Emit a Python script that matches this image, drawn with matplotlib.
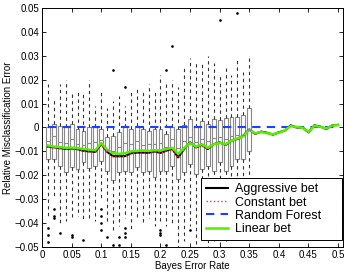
import numpy as np
import matplotlib
matplotlib.use('Agg')
import matplotlib.pyplot as plt

plt.rcParams['font.family'] = ['Liberation Sans', 'DejaVu Sans']

# box positions (Bayes error rate) and box statistics
box_x = [0.01 * i for i in range(1, 36)]
q3 = [0.0, 1.5, 0.8, 0.1, 1.5, -0.5, -1.3, 0.1, 0.1, -0.5,
      -4.0, -3.4, -2.0, 0.1, -0.5, 0.8, -0.5, -1.3, -0.5, -0.5,
      -2.7, 0.1, -0.5, 1.1, 3.5, 0.4, 2.7, 1.5, 3.5, 3.2,
      3.9, 4.4, 4.5, 5.2, 8.0]
q1 = [-13.2, -13.0, -16.0, -18.8, -16.7, -17.4, -14.6, -17.1, -16.0, -13.9,
      -18.1, -21.8, -18.8, -18.1, -18.8, -16.7, -18.8, -18.1, -20.9, -18.1,
      -18.1, -16.0, -21.6, -18.8, -15.3, -19.5, -17.4, -16.0, -18.1, -14.6,
      -18.1, -16.0, -13.2, -13.2, -9.7]
med = [-5.5, -3.4, -6.0, -6.5, -5.0, -6.8, -7.5, -6.5, -6.0, -5.2,
       -9.5, -10.0, -8.0, -6.5, -7.0, -5.5, -7.5, -7.0, -7.0, -6.5,
       -8.0, -5.0, -8.5, -5.5, -4.0, -6.0, -4.8, -5.5, -4.5, -4.0,
       -5.0, -3.5, -3.0, -3.0, -1.0]
whi = [18, 12, 18, 20, 15, 15, 14, 20, 9, 15,
       8, 11, 13, 9, 15, 16, 16, 18, 16, 22,
       18, 20, 17, 25, 29, 27, 27, 30, 27, 22,
       26, 22, 29, 23, 30]
wlo = [-37, -30, -40, -39, -38, -37, -39, -38, -39, -30,
       -39, -43, -41, -38, -43, -38, -40, -38, -41, -40,
       -41, -40, -50, -47.5, -41, -50, -47.5, -50, -47.5, -49,
       -47.5, -46, -43, -44.5, -38]
fliers = {1: [-42, -45, -48], 2: [-34, -37, -38], 3: [-44], 5: [-45, -46],
          7: [-47], 10: [-34, -37, -40, -43], 11: [-46], 12: [24, -49],
          13: [-46, -49], 14: [17, -42, -44, -46], 20: [-43, -44, -45],
          21: [24, -49], 22: [34], 25: [-43], 30: [45], 33: [48]}

# curves over the full range
rate = [0.01 * i for i in range(1, 51)]
aggressive = [-8.0, -8.3, -8.6, -9.0, -8.8, -9.0, -9.7, -10.0, -10.2, -6.9,
              -10.2, -12.0, -12.0, -12.0, -10.8, -10.5, -10.5, -10.6, -10.0, -10.6,
              -9.7, -9.0, -12.5, -9.0, -6.2, -8.3, -7.3, -9.0, -7.0, -6.2,
              -7.3, -5.5, -4.8, -3.4, -0.8, -2.7, -1.7, -2.2, -3.0, -2.0,
              -1.3, 0.9, 0.0, 0.0, -2.0, 0.9, 0.4, -0.6, 0.9, 1.1]
constant = [-8.2, -8.6, -8.9, -9.2, -9.0, -9.3, -10.0, -10.2, -10.4, -7.1,
            -10.4, -12.3, -12.3, -12.2, -11.0, -10.7, -10.7, -10.8, -10.2, -10.8,
            -9.9, -9.2, -12.7, -9.2, -6.4, -8.5, -7.5, -9.2, -7.2, -6.4,
            -7.5, -5.7, -5.0, -3.6, -1.0, -2.9, -1.9, -2.4, -3.2, -2.2,
            -1.5, 0.7, -0.2, -0.2, -2.2, 0.7, 0.2, -0.8, 0.7, 0.9]
linear = [-7.5, -8.0, -8.2, -8.5, -8.4, -8.6, -9.0, -9.3, -9.5, -6.5,
          -9.3, -10.8, -11.0, -10.8, -10.0, -9.8, -9.6, -9.8, -9.5, -9.6,
          -9.0, -8.5, -11.0, -8.6, -6.5, -8.0, -7.0, -8.5, -7.0, -6.4,
          -7.0, -5.5, -4.6, -3.6, -1.0, -2.4, -1.9, -2.4, -2.8, -2.2,
          -1.2, 0.6, 0.2, -0.1, -1.8, 0.7, 0.3, -0.4, 0.8, 1.0]
forest = [0.0] * 50

xticks = [0, 0.05, 0.1, 0.15, 0.2, 0.25, 0.3, 0.35, 0.4, 0.45, 0.5]
xticklabels = ['0', '0.05', '0.1', '0.15', '0.2', '0.25', '0.3', '0.35', '0.4', '0.45', '0.5']
yticks = [-0.05, -0.04, -0.03, -0.02, -0.01, 0, 0.01, 0.02, 0.03, 0.04, 0.05]
yticklabels = ['\u22120.05', '\u22120.04', '\u22120.03', '\u22120.02', '\u22120.01', '0',
               '0.01', '0.02', '0.03', '0.04', '0.05']

fig = plt.figure(figsize=(3.47, 2.73), dpi=100)
ax = fig.add_axes([0.121, 0.095, 0.867, 0.876])

s = 0.001
stats = []
for i in range(len(box_x)):
    stats.append({'med': med[i] * s, 'q1': q1[i] * s, 'q3': q3[i] * s,
                  'whislo': wlo[i] * s, 'whishi': whi[i] * s,
                  'fliers': [v * s for v in fliers.get(i + 1, [])]})

ax.bxp(stats, positions=box_x, widths=0.0065, showcaps=False, manage_ticks=False,
       boxprops=dict(color='#8a8a8a', lw=0.8),
       medianprops=dict(color='#8a8a8a', lw=0.8),
       whiskerprops=dict(color='#303030', lw=0.8, ls=(0, (3, 3))),
       flierprops=dict(marker='o', markersize=0.9, markerfacecolor='k',
                       markeredgecolor='k', ls='none'))

ax.plot(rate, [v * s for v in aggressive], color='k', lw=1.5, label='Aggressive bet')
ax.plot(rate, [v * s for v in constant], color='#ff3030', lw=1.0, ls=':', label='Constant bet')
ax.plot(rate, forest, color='#2040ff', lw=1.5, ls=(0, (4, 3)), label='Random Forest')
ax.plot(rate, [v * s for v in linear], color='#55ee00', lw=1.8, label='Linear bet')

ax.set_xlim(0, 0.508)
ax.set_ylim(-0.05, 0.05)
ax.set_xticks(xticks)
ax.set_xticklabels(xticklabels)
ax.set_yticks(yticks)
ax.set_yticklabels(yticklabels)
ax.tick_params(direction='in', length=3, width=0.6, labelsize=7, pad=2,
               top=True, right=True)
for sp in ax.spines.values():
    sp.set_linewidth(0.7)

ax.set_xlabel('Bayes Error Rate', fontsize=7, labelpad=1)
ax.set_ylabel('Relative Misclassification Error', fontsize=7, labelpad=1)

leg = ax.legend(loc='lower left', bbox_to_anchor=(201 / 347, 33 / 273, 141 / 347, 62 / 273),
                bbox_transform=fig.transFigure, mode='expand', borderaxespad=0,
                fontsize=9, fancybox=False, framealpha=1, edgecolor='k',
                borderpad=0.4, labelspacing=0.1, handlelength=1.8, handletextpad=0.5)
leg.get_frame().set_linewidth(0.7)

fig.savefig('out.png', dpi=100)
